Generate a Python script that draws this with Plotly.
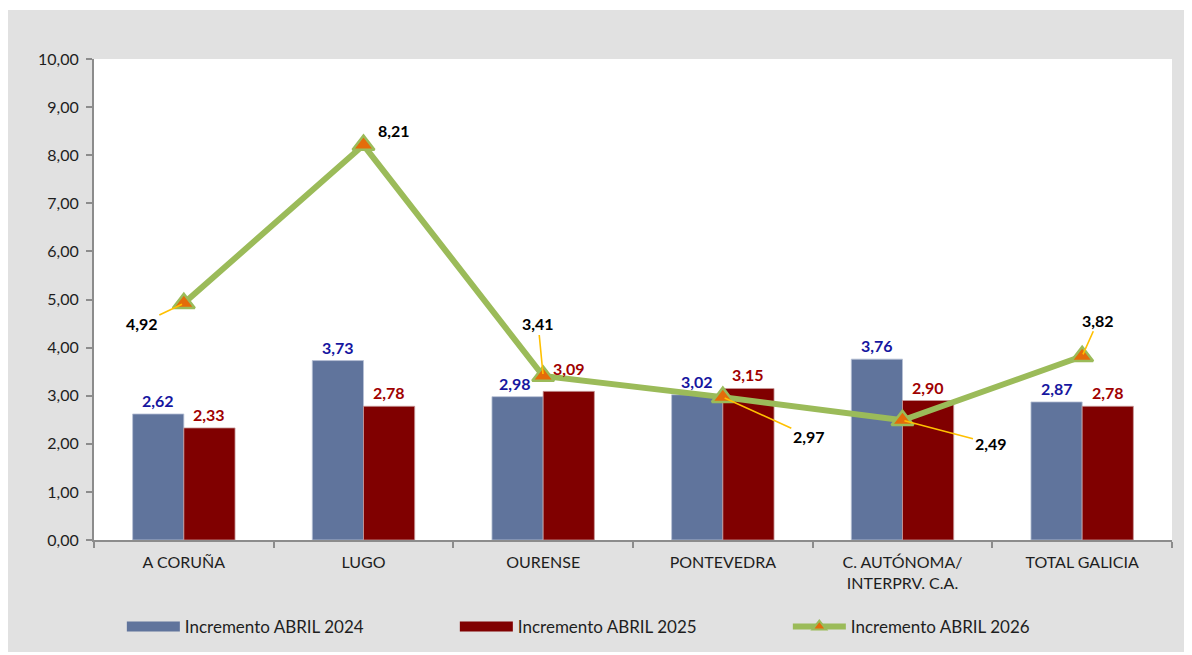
import plotly.graph_objects as go

categories = ["A CORUÑA", "LUGO", "OURENSE", "PONTEVEDRA",
              "C. AUTÓNOMA/<br>INTERPRV. C.A.", "TOTAL GALICIA"]
inc_2024 = [2.62, 3.73, 2.98, 3.02, 3.76, 2.87]
inc_2025 = [2.33, 2.78, 3.09, 3.15, 2.90, 2.78]
inc_2026 = [4.92, 8.21, 3.41, 2.97, 2.49, 3.82]
y_ticks = [0, 1, 2, 3, 4, 5, 6, 7, 8, 9, 10]

FONT = "Lato, 'Open Sans', sans-serif"
AXIS_GREY = "#8c8c8c"
BLUE = "#60749c"
RED = "#800000"
GREEN = "#9bbb59"
ORANGE = "#e46c0a"


def fmt(v):
    return f"{v:.2f}".replace(".", ",")


fig = go.Figure()

fig.add_trace(go.Bar(
    x=categories, y=inc_2024, name="Incremento ABRIL 2024", showlegend=False,
    marker=dict(color=BLUE, line=dict(color="#b8c2d6", width=0.8)),
))
fig.add_trace(go.Bar(
    x=categories, y=inc_2025, name="Incremento ABRIL 2025", showlegend=False,
    marker=dict(color=RED, line=dict(color="#c89a9a", width=0.8)),
))
fig.add_trace(go.Scatter(
    x=categories, y=inc_2026, name="Incremento ABRIL 2026", showlegend=False,
    mode="lines+markers",
    line=dict(color=GREEN, width=6),
    marker=dict(symbol="triangle-up", size=19, color=ORANGE,
                line=dict(color=GREEN, width=2.5)),
    cliponaxis=False,
))

# legend entries (wide swatches like the original)
fig.add_trace(go.Scatter(x=[None], y=[None], mode="lines", name="Incremento ABRIL 2024",
                         line=dict(color=BLUE, width=11)))
fig.add_trace(go.Scatter(x=[None], y=[None], mode="lines", name="Incremento ABRIL 2025",
                         line=dict(color=RED, width=11)))
fig.add_trace(go.Scatter(x=[None], y=[None], mode="lines+markers", name="Incremento ABRIL 2026",
                         line=dict(color=GREEN, width=6),
                         marker=dict(symbol="triangle-up", size=12, color=ORANGE,
                                     line=dict(color=GREEN, width=2))))

# bar value labels (drawn as annotations so they sit above the line)
half_bar = 25.6
for i, (cat, a, b) in enumerate(zip(categories, inc_2024, inc_2025)):
    fig.add_annotation(x=cat, y=a, text=fmt(a), showarrow=False,
                       xshift=-half_bar - (3 if i == 2 else 0), yshift=2, yanchor="bottom",
                       font=dict(color="#1616a0", size=16, family=FONT, weight="bold"))
    fig.add_annotation(x=cat, y=b, text=fmt(b), showarrow=False,
                       xshift=half_bar, yshift=11 if i == 2 else 2, yanchor="bottom",
                       font=dict(color="#a00000", size=16, family=FONT, weight="bold"))

# label offsets (pixels) for the line values, as placed in the original
offsets = [(-42, 20, True), (30, -15, False), (-5, -52, True),
           (86, 39, True), (88, 23, True), (16, -36, True)]
for cat, v, (dx, dy, arrow) in zip(categories, inc_2026, offsets):
    if arrow:
        fig.add_annotation(
            x=cat, y=v, text=fmt(v), showarrow=True, ax=dx, ay=dy,
            arrowhead=0, arrowwidth=1.6, arrowcolor="#ffc000", standoff=2,
            font=dict(color="#000000", size=16, family=FONT, weight="bold"),
        )
    else:
        fig.add_annotation(
            x=cat, y=v, text=fmt(v), showarrow=False, xshift=dx, yshift=-dy,
            font=dict(color="#000000", size=16, family=FONT, weight="bold"),
        )

# grey chart-area background with white plot area on top
fig.add_shape(type="rect", xref="paper", yref="paper",
              x0=-0.0798, x1=1.0121, y0=-0.2328, y1=1.1019,
              fillcolor="#e1e1e1", line=dict(width=0), layer="below")
fig.add_shape(type="rect", xref="paper", yref="paper",
              x0=0, x1=1, y0=0, y1=1,
              fillcolor="#ffffff", line=dict(width=0), layer="below")

fig.update_layout(
    width=1192, height=655,
    margin=dict(l=86, r=28, t=51, b=123, autoexpand=False),
    paper_bgcolor="#ffffff",
    plot_bgcolor="rgba(0,0,0,0)",
    separators=",.",
    barmode="group",
    bargap=0.43,
    bargroupgap=0,
    font=dict(family=FONT, size=16, color="#1e1e1e"),
    showlegend=True,
    legend=dict(
        orientation="h", xref="container", yref="container",
        x=0.0955, y=0.055, xanchor="left", yanchor="middle",
        entrywidth=265, entrywidthmode="pixels",
        font=dict(size=17, color="#1e1e1e"), bgcolor="rgba(0,0,0,0)",
        itemwidth=53,
    ),
    xaxis=dict(
        showline=True, linecolor=AXIS_GREY, linewidth=2,
        ticks="outside", tickson="boundaries", ticklen=6,
        tickcolor=AXIS_GREY, tickwidth=2, showgrid=False,
        ticklabelstandoff=7,
        tickfont=dict(size=16, color="#1e1e1e"),
    ),
    yaxis=dict(
        range=[0, 10], tickvals=y_ticks, tickformat=".2f",
        showline=True, linecolor=AXIS_GREY, linewidth=2,
        ticks="outside", ticklen=6, tickcolor=AXIS_GREY, tickwidth=2,
        showgrid=False, zeroline=False, ticklabelstandoff=4,
        tickfont=dict(size=16, color="#1e1e1e"),
    ),
)

fig.write_html("out.html")
